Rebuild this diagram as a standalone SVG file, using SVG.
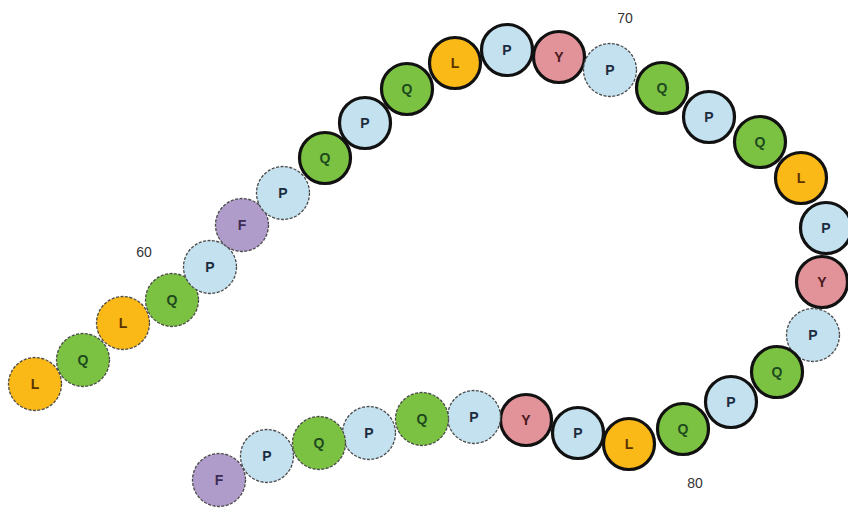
<svg xmlns="http://www.w3.org/2000/svg" width="848" height="512" viewBox="0 0 848 512">
<style>
.thin{stroke:#4a4a4a;stroke-width:1.3;stroke-dasharray:3 1.5}
.thick{stroke:#111;stroke-width:3.2}
.L{fill:#fbb917}.Q{fill:#7cc242}.P{fill:#c3e1ef}.Y{fill:#e2939a}.F{fill:#b09ccb}
text{font-family:"Liberation Sans",Arial,sans-serif;font-weight:bold;font-size:14px;text-anchor:middle;dominant-baseline:central}
.tL{fill:#5a3200}.tQ{fill:#1d4a1d}.tP{fill:#1c2c3e}.tY{fill:#4a1a1e}.tF{fill:#3c2c55}
.num{font-weight:normal;font-size:14px;fill:#333}
</style>
<rect width="848" height="512" fill="#fff"/>
<g id="connectors"/>
<g id="n1"><circle cx="35" cy="384" r="26.5" class="L thin"/><text x="35" y="384" class="tL">L</text></g>
<g id="n2"><circle cx="83" cy="360" r="26.5" class="Q thin"/><text x="83" y="360" class="tQ">Q</text></g>
<g id="n3"><circle cx="123" cy="323" r="26.5" class="L thin"/><text x="123" y="323" class="tL">L</text></g>
<g id="n4"><circle cx="172" cy="300" r="26.5" class="Q thin"/><text x="172" y="300" class="tQ">Q</text></g>
<g id="n5"><circle cx="210" cy="267" r="26.5" class="P thin"/><text x="210" y="267" class="tP">P</text></g>
<g id="n6"><circle cx="242" cy="225" r="26.5" class="F thin"/><text x="242" y="225" class="tF">F</text></g>
<g id="n7"><circle cx="283" cy="193" r="26.5" class="P thin"/><text x="283" y="193" class="tP">P</text></g>
<g id="n8"><circle cx="325" cy="158" r="25.5" class="Q thick"/><text x="325" y="158" class="tQ">Q</text></g>
<g id="n9"><circle cx="365" cy="123" r="25.5" class="P thick"/><text x="365" y="123" class="tP">P</text></g>
<g id="n10"><circle cx="407" cy="89" r="25.5" class="Q thick"/><text x="407" y="89" class="tQ">Q</text></g>
<g id="n11"><circle cx="455" cy="63" r="25.5" class="L thick"/><text x="455" y="63" class="tL">L</text></g>
<g id="n12"><circle cx="507" cy="50" r="25.5" class="P thick"/><text x="507" y="50" class="tP">P</text></g>
<g id="n13"><circle cx="559" cy="57" r="25.5" class="Y thick"/><text x="559" y="57" class="tY">Y</text></g>
<g id="n14"><circle cx="610" cy="70" r="26.5" class="P thin"/><text x="610" y="70" class="tP">P</text></g>
<g id="n15"><circle cx="662" cy="88" r="25.5" class="Q thick"/><text x="662" y="88" class="tQ">Q</text></g>
<g id="n16"><circle cx="709" cy="117" r="25.5" class="P thick"/><text x="709" y="117" class="tP">P</text></g>
<g id="n17"><circle cx="760" cy="142" r="25.5" class="Q thick"/><text x="760" y="142" class="tQ">Q</text></g>
<g id="n18"><circle cx="801" cy="178" r="25.5" class="L thick"/><text x="801" y="178" class="tL">L</text></g>
<g id="n19"><circle cx="826" cy="228" r="25.5" class="P thick"/><text x="826" y="228" class="tP">P</text></g>
<g id="n20"><circle cx="822" cy="282" r="25.5" class="Y thick"/><text x="822" y="282" class="tY">Y</text></g>
<g id="n21"><circle cx="813" cy="335" r="26.5" class="P thin"/><text x="813" y="335" class="tP">P</text></g>
<g id="n22"><circle cx="777" cy="372" r="25.5" class="Q thick"/><text x="777" y="372" class="tQ">Q</text></g>
<g id="n23"><circle cx="731" cy="402" r="25.5" class="P thick"/><text x="731" y="402" class="tP">P</text></g>
<g id="n24"><circle cx="683" cy="429" r="25.5" class="Q thick"/><text x="683" y="429" class="tQ">Q</text></g>
<g id="n25"><circle cx="629" cy="444" r="25.5" class="L thick"/><text x="629" y="444" class="tL">L</text></g>
<g id="n26"><circle cx="578" cy="433" r="25.5" class="P thick"/><text x="578" y="433" class="tP">P</text></g>
<g id="n27"><circle cx="526" cy="420" r="25.5" class="Y thick"/><text x="526" y="420" class="tY">Y</text></g>
<g id="n28"><circle cx="474" cy="417" r="26.5" class="P thin"/><text x="474" y="417" class="tP">P</text></g>
<g id="n29"><circle cx="422" cy="419" r="26.5" class="Q thin"/><text x="422" y="419" class="tQ">Q</text></g>
<g id="n30"><circle cx="369" cy="433" r="26.5" class="P thin"/><text x="369" y="433" class="tP">P</text></g>
<g id="n31"><circle cx="319" cy="443" r="26.5" class="Q thin"/><text x="319" y="443" class="tQ">Q</text></g>
<g id="n32"><circle cx="267" cy="456" r="26.5" class="P thin"/><text x="267" y="456" class="tP">P</text></g>
<g id="n33"><circle cx="219" cy="480" r="26.5" class="F thin"/><text x="219" y="480" class="tF">F</text></g>
<g id="labels">
<text x="144" y="252" class="num">60</text>
<text x="625" y="18" class="num">70</text>
<text x="695" y="483" class="num">80</text>
</g>
</svg>
